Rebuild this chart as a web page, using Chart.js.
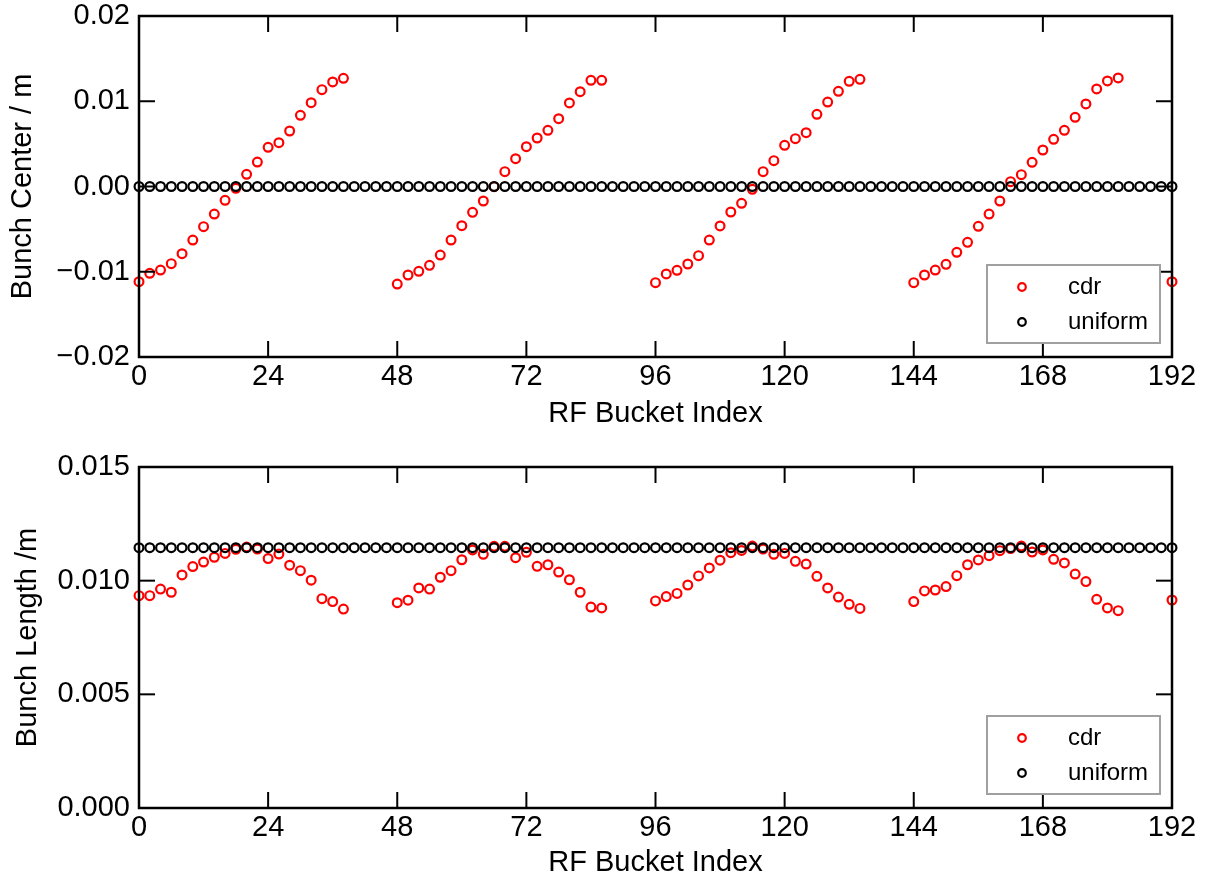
<!DOCTYPE html>
<html>
<head>
<meta charset="utf-8">
<title>Bunch center and length</title>
<script src="https://cdn.jsdelivr.net/npm/chart.js@4.4.1/dist/chart.umd.min.js"></script>
<style>
    html, body {
        margin: 0;
        padding: 0;
        background: #ffffff;
    }

    #page {
        position: relative;
        width: 1208px;
        height: 879px;
    }

    .panel {
        position: absolute;
        left: 0;
    }

    #centerPanel {
        top: 0;
    }

    #lengthPanel {
        top: 440px;
    }
</style>
</head>
<body>
<div id="page">
    <div class="panel" id="centerPanel"><canvas id="centerChart" width="1208" height="440"></canvas></div>
    <div class="panel" id="lengthPanel"><canvas id="lengthChart" width="1208" height="439"></canvas></div>
</div>

<script>
// filled buckets of the cdr pattern: 4 trains of 20 bunches plus the wrap-around bucket
const cdrBuckets = [
    0, 2, 4, 6, 8, 10, 12, 14, 16, 18, 20, 22, 24, 26, 28, 30, 32, 34, 36, 38,
    48, 50, 52, 54, 56, 58, 60, 62, 64, 66, 68, 70, 72, 74, 76, 78, 80, 82, 84, 86,
    96, 98, 100, 102, 104, 106, 108, 110, 112, 114, 116, 118, 120, 122, 124, 126, 128, 130, 132, 134,
    144, 146, 148, 150, 152, 154, 156, 158, 160, 162, 164, 166, 168, 170, 172, 174, 176, 178, 180, 182,
    192
];

const cdrCenter = [
    -0.01117, -0.01018, -0.00980, -0.00905, -0.00788, -0.00628, -0.00471, -0.00323, -0.00162, -0.00021,
    0.00143, 0.00287, 0.00460, 0.00514, 0.00651, 0.00835, 0.00983, 0.01136, 0.01226, 0.01269,
    -0.01144, -0.01038, -0.00995, -0.00925, -0.00804, -0.00628, -0.00460, -0.00303, -0.00170, -0.00002,
    0.00174, 0.00326, 0.00467, 0.00569, 0.00659, 0.00795, 0.00980, 0.01112, 0.01246, 0.01246,
    -0.01128, -0.01026, -0.00983, -0.00909, -0.00811, -0.00628, -0.00463, -0.00299, -0.00197, -0.00033,
    0.00174, 0.00303, 0.00483, 0.00561, 0.00631, 0.00847, 0.00991, 0.01117, 0.01234, 0.01257,
    -0.01128, -0.01038, -0.00980, -0.00913, -0.00772, -0.00655, -0.00467, -0.00323, -0.00170, 0.00057,
    0.00139, 0.00284, 0.00428, 0.00554, 0.00659, 0.00812, 0.00968, 0.01144, 0.01238, 0.01273,
    -0.01117
];

const cdrLength = [
    0.00934, 0.00934, 0.00963, 0.00949, 0.01025, 0.01062, 0.01082, 0.01103, 0.01120, 0.01138,
    0.01148, 0.01139, 0.01097, 0.01117, 0.01068, 0.01044, 0.01002, 0.00921, 0.00908, 0.00875,
    0.00903, 0.00914, 0.00968, 0.00963, 0.01015, 0.01044, 0.01092, 0.01135, 0.01116, 0.01151,
    0.01151, 0.01101, 0.01125, 0.01063, 0.01070, 0.01038, 0.01004, 0.00949, 0.00884, 0.00880,
    0.00911, 0.00930, 0.00944, 0.00981, 0.01021, 0.01056, 0.01090, 0.01123, 0.01133, 0.01152,
    0.01139, 0.01116, 0.01120, 0.01085, 0.01073, 0.01019, 0.00968, 0.00928, 0.00896, 0.00878,
    0.00908, 0.00955, 0.00959, 0.00974, 0.01022, 0.01070, 0.01091, 0.01110, 0.01132, 0.01141,
    0.01152, 0.01126, 0.01135, 0.01094, 0.01078, 0.01029, 0.00996, 0.00918, 0.00880, 0.00868,
    0.00915
];

// uniform fill: every second bucket
const uniformBuckets = [
    0, 2, 4, 6, 8, 10, 12, 14, 16, 18, 20, 22, 24, 26, 28, 30, 32, 34, 36, 38,
    40, 42, 44, 46, 48, 50, 52, 54, 56, 58, 60, 62, 64, 66, 68, 70, 72, 74, 76, 78,
    80, 82, 84, 86, 88, 90, 92, 94, 96, 98, 100, 102, 104, 106, 108, 110, 112, 114, 116, 118,
    120, 122, 124, 126, 128, 130, 132, 134, 136, 138, 140, 142, 144, 146, 148, 150, 152, 154, 156, 158,
    160, 162, 164, 166, 168, 170, 172, 174, 176, 178, 180, 182, 184, 186, 188, 190, 192
];

const uniformCenter = [
    0, 0, 0, 0, 0, 0, 0, 0, 0, 0, 0, 0, 0, 0, 0, 0, 0, 0, 0, 0,
    0, 0, 0, 0, 0, 0, 0, 0, 0, 0, 0, 0, 0, 0, 0, 0, 0, 0, 0, 0,
    0, 0, 0, 0, 0, 0, 0, 0, 0, 0, 0, 0, 0, 0, 0, 0, 0, 0, 0, 0,
    0, 0, 0, 0, 0, 0, 0, 0, 0, 0, 0, 0, 0, 0, 0, 0, 0, 0, 0, 0,
    0, 0, 0, 0, 0, 0, 0, 0, 0, 0, 0, 0, 0, 0, 0, 0, 0
];

const uniformLength = [
    0.01145, 0.01145, 0.01145, 0.01145, 0.01145, 0.01145, 0.01145, 0.01145, 0.01145, 0.01145,
    0.01145, 0.01145, 0.01145, 0.01145, 0.01145, 0.01145, 0.01145, 0.01145, 0.01145, 0.01145,
    0.01145, 0.01145, 0.01145, 0.01145, 0.01145, 0.01145, 0.01145, 0.01145, 0.01145, 0.01145,
    0.01145, 0.01145, 0.01145, 0.01145, 0.01145, 0.01145, 0.01145, 0.01145, 0.01145, 0.01145,
    0.01145, 0.01145, 0.01145, 0.01145, 0.01145, 0.01145, 0.01145, 0.01145, 0.01145, 0.01145,
    0.01145, 0.01145, 0.01145, 0.01145, 0.01145, 0.01145, 0.01145, 0.01145, 0.01145, 0.01145,
    0.01145, 0.01145, 0.01145, 0.01145, 0.01145, 0.01145, 0.01145, 0.01145, 0.01145, 0.01145,
    0.01145, 0.01145, 0.01145, 0.01145, 0.01145, 0.01145, 0.01145, 0.01145, 0.01145, 0.01145,
    0.01145, 0.01145, 0.01145, 0.01145, 0.01145, 0.01145, 0.01145, 0.01145, 0.01145, 0.01145,
    0.01145, 0.01145, 0.01145, 0.01145, 0.01145, 0.01145, 0.01145
];

const bucketTicks = [0, 24, 48, 72, 96, 120, 144, 168, 192];
const bucketTickLabels = ['0', '24', '48', '72', '96', '120', '144', '168', '192'];

const centerTicks = [-0.02, -0.01, 0, 0.01, 0.02];
const centerTickLabels = ['\u22120.02', '\u22120.01', '0.00', '0.01', '0.02'];

const lengthTicks = [0, 0.005, 0.010, 0.015];
const lengthTickLabels = ['0.000', '0.005', '0.010', '0.015'];

const FONT_FAMILY = "'Liberation Sans', Arial, sans-serif";
const TICK_LEN = 16;

function toPoints(xs, ys) {
    return xs.map((x, i) => ({ x: x, y: ys[i] }));
}

function line(ctx, x1, y1, x2, y2) {
    ctx.beginPath();
    ctx.moveTo(x1, y1);
    ctx.lineTo(x2, y2);
    ctx.stroke();
}

// box around the plot with inward ticks on all four sides
const frameTicks = {
    id: 'frameTicks',
    afterDatasetsDraw(chart) {
        const ctx = chart.ctx;
        const a = chart.chartArea;
        const xs = chart.scales.x;
        const ys = chart.scales.y;

        ctx.save();
        ctx.strokeStyle = '#000000';
        ctx.lineWidth = 2;

        xs.ticks.forEach(t => {
            const px = xs.getPixelForValue(t.value);
            line(ctx, px, a.bottom, px, a.bottom - TICK_LEN);
            line(ctx, px, a.top, px, a.top + TICK_LEN);
        });

        ys.ticks.forEach(t => {
            const py = ys.getPixelForValue(t.value);
            line(ctx, a.left, py, a.left + TICK_LEN, py);
            line(ctx, a.right, py, a.right - TICK_LEN, py);
        });

        ctx.lineWidth = 2.5;
        ctx.strokeRect(a.left, a.top, a.right - a.left, a.bottom - a.top);
        ctx.restore();
    }
};

// legend box in the lower right corner of the plot
const cornerLegend = {
    id: 'cornerLegend',
    afterDraw(chart) {
        const ctx = chart.ctx;
        const a = chart.chartArea;
        const w = 173;
        const h = 78;
        const left = a.right - 12 - w;
        const top = a.bottom - 14 - h;

        ctx.save();
        ctx.fillStyle = '#ffffff';
        ctx.fillRect(left, top, w, h);
        ctx.strokeStyle = '#a0a0a0';
        ctx.lineWidth = 2;
        ctx.strokeRect(left, top, w, h);

        ctx.font = `24px ${FONT_FAMILY}`;
        ctx.textBaseline = 'middle';
        ctx.textAlign = 'left';

        chart.data.datasets.forEach((ds, i) => {
            const cy = top + 22 + i * 35;
            ctx.strokeStyle = ds.borderColor;
            ctx.lineWidth = 2.2;
            ctx.beginPath();
            ctx.arc(left + 35, cy, 3.8, 0, Math.PI * 2);
            ctx.stroke();
            ctx.fillStyle = '#000000';
            ctx.fillText(ds.label, left + 81, cy);
        });

        ctx.restore();
    }
};

function buildChart(canvasId, cfg) {

    const ctx =
        document.getElementById(canvasId);

    if (!ctx) {
        return;
    }

    new Chart(ctx, {

        type: 'scatter',

        data: {
            datasets: [
                {
                    label: 'cdr',
                    data: toPoints(cdrBuckets, cfg.cdr),
                    borderColor: '#ff0000',
                    backgroundColor: 'rgba(0,0,0,0)',
                    pointRadius: 4.4,
                    pointBorderWidth: 2.2,
                    order: 1,
                    clip: false
                },
                {
                    label: 'uniform',
                    data: toPoints(uniformBuckets, cfg.uniform),
                    borderColor: '#000000',
                    backgroundColor: 'rgba(0,0,0,0)',
                    pointRadius: 4.4,
                    pointBorderWidth: 2.2,
                    order: 0,
                    clip: false
                }
            ]
        },

        options: {

            responsive: false,
            animation: false,
            events: [],

            layout: {
                padding: {
                    left: 0,
                    right: 36,
                    top: cfg.padTop,
                    bottom: 0
                }
            },

            plugins: {
                legend: { display: false },
                tooltip: { enabled: false }
            },

            scales: {

                x: {
                    type: 'linear',
                    min: 0,
                    max: 192,
                    grid: { display: false, drawTicks: false },
                    border: { display: false },
                    afterBuildTicks: scale => {
                        scale.ticks = bucketTicks.map(v => ({ value: v }));
                    },
                    afterFit: scale => {
                        scale.height = cfg.xHeight;
                        scale.paddingLeft = 0;
                        scale.paddingRight = 0;
                    },
                    ticks: {
                        color: '#000000',
                        padding: 3,
                        maxRotation: 0,
                        font: { family: FONT_FAMILY, size: 29 },
                        callback: (v, i) => bucketTickLabels[i]
                    },
                    title: {
                        display: true,
                        text: 'RF Bucket Index',
                        color: '#000000',
                        font: { family: FONT_FAMILY, size: 29, lineHeight: 1 },
                        padding: { top: 0, bottom: cfg.xTitlePad }
                    }
                },

                y: {
                    type: 'linear',
                    min: cfg.yMin,
                    max: cfg.yMax,
                    grid: { display: false, drawTicks: false },
                    border: { display: false },
                    afterBuildTicks: scale => {
                        scale.ticks = cfg.yTicks.map(v => ({ value: v }));
                    },
                    afterFit: scale => {
                        scale.width = 139;
                        scale.paddingTop = 0;
                        scale.paddingBottom = 0;
                    },
                    ticks: {
                        color: '#000000',
                        padding: 9,
                        font: { family: FONT_FAMILY, size: 29 },
                        callback: (v, i) => cfg.yTickLabels[i]
                    },
                    title: {
                        display: true,
                        text: cfg.yTitle,
                        color: '#000000',
                        font: { family: FONT_FAMILY, size: 29, lineHeight: 1 },
                        padding: { top: cfg.yTitlePad, bottom: 0 }
                    }
                }

            }

        },

        plugins: [frameTicks, cornerLegend]

    });

}

buildChart('centerChart', {
    cdr: cdrCenter,
    uniform: uniformCenter,
    yMin: -0.02,
    yMax: 0.02,
    yTicks: centerTicks,
    yTickLabels: centerTickLabels,
    yTitle: 'Bunch Center / m',
    yTitlePad: 8.5,
    padTop: 16,
    xHeight: 83,
    xTitlePad: 11.5
});

buildChart('lengthChart', {
    cdr: cdrLength,
    uniform: uniformLength,
    yMin: 0,
    yMax: 0.015,
    yTicks: lengthTicks,
    yTickLabels: lengthTickLabels,
    yTitle: 'Bunch Length /m',
    yTitlePad: 13,
    padTop: 27,
    xHeight: 71,
    xTitlePad: 1.5
});
</script>
</body>
</html>
